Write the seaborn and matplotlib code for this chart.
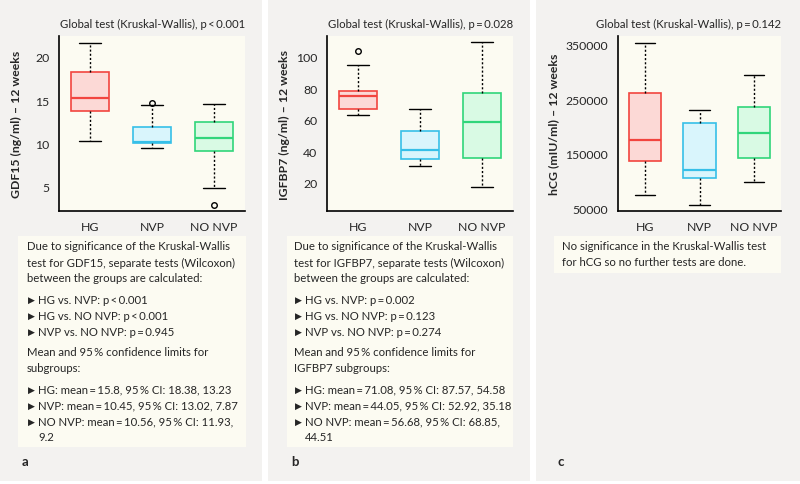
import matplotlib
matplotlib.use('Agg')
import matplotlib.pyplot as plt
from matplotlib.patches import Rectangle
import pandas as pd
import seaborn as sns

# groups on the x axis
groups = ['HG', 'NVP', 'NO NVP']

# samples rebuilt from the drawn boxes (whisker, Q1, median, Q3, whisker, outliers)
gdf15_hg = [10.25, 10.25, 13.75, 15.3, 15.3, 15.3, 18.3, 21.6, 21.6]
gdf15_nvp = [9.5, 9.5, 10.05, 10.15, 10.15, 10.15, 11.85, 14.4, 14.7]
gdf15_nonvp = [2.95, 4.85, 9.15, 10.6, 10.6, 10.6, 12.45, 14.6, 14.6]

igfbp7_hg = [63, 63, 66.9, 75.2, 75.2, 75.2, 78.2, 94.7, 103.4]
igfbp7_nvp = [30.5, 30.5, 35.1, 40.4, 40.4, 40.4, 52.5, 66.4, 66.4]
igfbp7_nonvp = [17.5, 17.5, 35.6, 58.3, 58.3, 58.3, 77, 109.1, 109.1]

hcg_hg = [75000, 75000, 136600, 175000, 175000, 175000, 262000, 352400, 352400]
hcg_nvp = [57300, 57300, 105500, 120700, 120700, 120700, 207200, 230400, 230400]
hcg_nonvp = [98200, 98200, 142700, 187800, 187800, 187800, 236000, 294400, 294400]

gdf15_ticks = [5, 10, 15, 20]
igfbp7_ticks = [20, 40, 60, 80, 100]
hcg_ticks = [50000, 150000, 250000, 350000]

edge_colors = ['#f2453f', '#36bfe8', '#30d57a']
fill_colors = ['#fcd9d6', '#d9f5fc', '#d9fae4']

text_a = [
    ('p', 'Due to significance of the Kruskal-Wallis'),
    ('p', 'test for GDF15, separate tests (Wilcoxon)'),
    ('p', 'between the groups are calculated:'),
    ('gap', ''),
    ('b', 'HG vs. NVP: p\u2009<\u20090.001'),
    ('b', 'HG vs. NO NVP: p\u2009<\u20090.001'),
    ('b', 'NVP vs. NO NVP: p\u2009=\u20090.945'),
    ('gap', ''),
    ('p', 'Mean and 95\u2009% confidence limits for'),
    ('p', 'subgroups:'),
    ('gap', ''),
    ('b', 'HG: mean\u2009=\u200915.8, 95\u2009% CI: 18.38, 13.23'),
    ('b', 'NVP: mean\u2009=\u200910.45, 95\u2009% CI: 13.02, 7.87'),
    ('b', 'NO NVP: mean\u2009=\u200910.56, 95\u2009% CI: 11.93,'),
    ('c', '9.2'),
]
text_b = [
    ('p', 'Due to significance of the Kruskal-Wallis'),
    ('p', 'test for IGFBP7, separate tests (Wilcoxon)'),
    ('p', 'between the groups are calculated:'),
    ('gap', ''),
    ('b', 'HG vs. NVP: p\u2009=\u20090.002'),
    ('b', 'HG vs. NO NVP: p\u2009=\u20090.123'),
    ('b', 'NVP vs. NO NVP: p\u2009=\u20090.274'),
    ('gap', ''),
    ('p', 'Mean and 95\u2009% confidence limits for'),
    ('p', 'IGFBP7 subgroups:'),
    ('gap', ''),
    ('b', 'HG: mean\u2009=\u200971.08, 95\u2009% CI: 87.57, 54.58'),
    ('b', 'NVP: mean\u2009=\u200944.05, 95\u2009% CI: 52.92, 35.18'),
    ('b', 'NO NVP: mean\u2009=\u200956.68, 95\u2009% CI: 68.85,'),
    ('c', '44.51'),
]
text_c = [
    ('p', 'No significance in the Kruskal-Wallis test'),
    ('p', 'for hCG so no further tests are done.'),
]

panels = [
    dict(data=[gdf15_hg, gdf15_nvp, gdf15_nonvp], ticks=gdf15_ticks, ylim=(2.2, 22.4),
         ylabel='GDF15 (ng/ml) \u2013 12 weeks', title='Global test (Kruskal-Wallis), p\u2009<\u20090.001',
         text=text_a, letter='a', bg=(0, 262), ax=(59, 245), label_x=22,
         tbox=(18, 237, 246, 448), tx=27),
    dict(data=[igfbp7_hg, igfbp7_nvp, igfbp7_nonvp], ticks=igfbp7_ticks, ylim=(2, 113),
         ylabel='IGFBP7 (ng/ml) \u2013 12 weeks', title='Global test (Kruskal-Wallis), p\u2009=\u20090.028',
         text=text_b, letter='b', bg=(268, 530), ax=(327, 513), label_x=290,
         tbox=(287, 237, 513, 448), tx=294),
    dict(data=[hcg_hg, hcg_nvp, hcg_nonvp], ticks=hcg_ticks, ylim=(46000, 365000),
         ylabel='hCG (mIU/ml) \u2013 12 weeks', title='Global test (Kruskal-Wallis), p\u2009=\u20090.142',
         text=text_c, letter='c', bg=(536, 800), ax=(618, 781), label_x=559,
         tbox=(554, 237, 781, 274), tx=562),
]

sns.set_style('white')
plt.rcParams['font.family'] = ['Lato', 'DejaVu Sans']

W, H = 800, 485
GRAY = '#f3f2f0'
BEIGE = '#fcfbf2'
BODY = 8.2
fig = plt.figure(figsize=(8, 4.85), dpi=100)


def rect(x0, y0, x1, y1, color):
    # rectangle in pixel coords measured from the top-left corner
    fig.add_artist(Rectangle((x0 / W, 1 - y1 / H), (x1 - x0) / W, (y1 - y0) / H,
                             transform=fig.transFigure, facecolor=color,
                             edgecolor='none', zorder=-5))


AX_TOP, AX_BOT = 37, 212

for p in panels:
    rect(p['bg'][0], 0, p['bg'][1], 482, GRAY)
    rect(*p['tbox'], BEIGE)

    x0, x1 = p['ax']
    ax = fig.add_axes([x0 / W, 1 - AX_BOT / H, (x1 - x0) / W, (AX_BOT - AX_TOP) / H])
    ax.set_facecolor(BEIGE)

    for g, vals, ec, fc in zip(groups, p['data'], edge_colors, fill_colors):
        df = pd.DataFrame({'group': g, 'value': vals})
        sns.boxplot(data=df, x='group', y='value', order=groups, color=fc, linecolor=ec,
                    saturation=1, width=0.6, linewidth=1.2, fliersize=4, ax=ax,
                    capwidths=0.37,
                    whiskerprops=dict(color='black', linestyle=(0, (1.5, 1.5)), linewidth=1),
                    capprops=dict(color='black', linewidth=1),
                    medianprops=dict(color=ec, linewidth=1.6),
                    flierprops=dict(marker='o', markerfacecolor='none',
                                    markeredgecolor='black', markeredgewidth=1))

    ax.set_xlim(-0.5, 2.5)
    ax.set_ylim(*p['ylim'])
    ax.set_yticks(p['ticks'])
    ax.set_yticklabels([str(t) for t in p['ticks']])
    ax.set_xticks([-0.5, 0.5, 1.5, 2.5], minor=True)
    ax.tick_params(axis='x', which='major', length=0, labelsize=8.8, pad=7)
    ax.tick_params(axis='x', which='minor', length=5, width=1, color='black', direction='out')
    ax.tick_params(axis='y', length=5, width=1, color='black', direction='out', labelsize=8.8, pad=2)
    for side in ['top', 'right']:
        ax.spines[side].set_visible(False)
    for side in ['left', 'bottom']:
        ax.spines[side].set_color('black')
        ax.spines[side].set_linewidth(1.2)
    ax.set_xlabel('')
    ax.set_ylabel(p['ylabel'], fontsize=8.8, fontweight='bold')
    ax.yaxis.set_label_coords((p['label_x'] - x0) / (x1 - x0), 0.5)

    fig.text(x1 / W, 1 - 24 / H, p['title'], ha='right', va='center', fontsize=8.2)

    # explanation text under the plot
    y = 247
    for kind, txt in p['text']:
        if kind == 'gap':
            y += 5
            continue
        if kind == 'b':
            fig.text((p['tx'] + 1) / W, 1 - y / H, '\u25b6', ha='left', va='center',
                     fontsize=6.5, family='DejaVu Sans')
            fig.text((p['tx'] + 11) / W, 1 - y / H, txt, ha='left', va='center', fontsize=BODY)
        elif kind == 'c':
            fig.text((p['tx'] + 11) / W, 1 - y / H, txt, ha='left', va='center', fontsize=BODY)
        else:
            fig.text(p['tx'] / W, 1 - y / H, txt, ha='left', va='center', fontsize=BODY)
        y += 16

    fig.text((p['tbox'][0] + 4) / W, 1 - 462 / H, p['letter'], ha='left', va='center',
             fontsize=9.5, fontweight='bold')

fig.savefig('out.png', dpi=100, facecolor='white')
